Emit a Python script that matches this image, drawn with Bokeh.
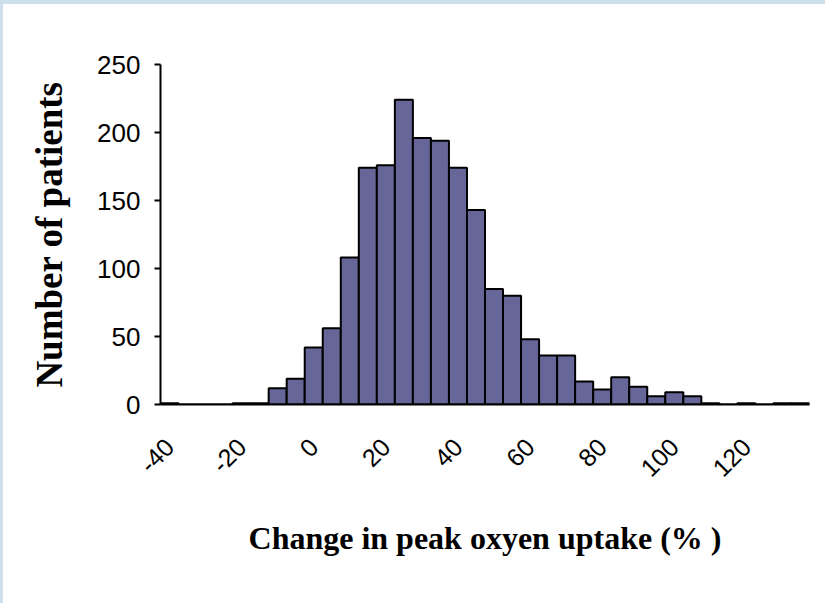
import math
from bokeh.plotting import figure
from bokeh.models import Range1d, FixedTicker, ColumnDataSource, Spacer
from bokeh.layouts import column, row
from bokeh.embed import file_html
from bokeh.resources import INLINE

# ---- data ----
bin_centers = [-40, -35, -30, -25, -20, -15, -10, -5, 0, 5, 10, 15, 20, 25, 30, 35,
               40, 45, 50, 55, 60, 65, 70, 75, 80, 85, 90, 95, 100, 105, 110, 115,
               120, 125, 130, 135]
counts = [1, 0, 0, 0, 1, 1, 12, 19, 42, 56, 108, 174, 176, 224, 196, 194,
          174, 143, 85, 80, 48, 36, 36, 17, 11, 20, 13, 6, 9, 6, 1, 0,
          1, 0, 1, 1]
bin_width = 5
x_tick_values = [-40, -20, 0, 20, 40, 60, 80, 100, 120]
x_tick_labels = ["-40", "-20", "0", "20", "40", "60", "80", "100", "120"]
y_tick_values = [0, 50, 100, 150, 200, 250]
x_title = "Change in peak oxyen uptake (% )"
y_title = "Number of patients"

src = ColumnDataSource(dict(x=bin_centers, top=counts))

p = figure(width=822, height=599, output_backend="svg", toolbar_location=None,
           x_range=Range1d(bin_centers[0] - bin_width / 2, bin_centers[-1] + bin_width / 2),
           y_range=Range1d(0, 250),
           min_border_left=157, min_border_right=16, min_border_top=60,
           min_border_bottom=199)
p.outline_line_color = None
p.xgrid.grid_line_color = None
p.ygrid.grid_line_color = None
p.background_fill_color = "white"
p.border_fill_color = "white"

p.vbar(x="x", top="top", width=bin_width, bottom=0, source=src,
       fill_color="#666699", line_color="black", line_width=2)

# x axis
xa = p.xaxis[0]
xa.ticker = FixedTicker(ticks=x_tick_values)
xa.major_label_overrides = {v: s for v, s in zip(x_tick_values, x_tick_labels)}
xa.major_label_orientation = math.pi / 4
xa.major_tick_line_color = None
xa.minor_tick_line_color = None
xa.axis_line_width = 2
xa.axis_line_color = "black"
xa.major_label_text_font = "Liberation Sans"
xa.major_label_text_font_size = "25px"
xa.major_label_text_color = "black"
xa.major_label_standoff = 32
xa.axis_label = x_title
xa.axis_label_text_font = "Liberation Serif"
xa.axis_label_text_font_style = "bold"
xa.axis_label_text_font_size = "32px"
xa.axis_label_text_color = "black"
xa.axis_label_standoff = 32

# y axis
ya = p.yaxis[0]
ya.ticker = FixedTicker(ticks=y_tick_values)
ya.major_tick_out = 6
ya.major_tick_in = 0
ya.major_tick_line_width = 2
ya.minor_tick_line_color = None
ya.axis_line_width = 2
ya.axis_line_color = "black"
ya.major_label_text_font = "Liberation Sans"
ya.major_label_text_font_size = "26px"
ya.major_label_text_color = "black"
ya.major_label_standoff = 14
ya.axis_label = y_title
ya.axis_label_text_font = "Liberation Serif"
ya.axis_label_text_font_style = "bold"
ya.axis_label_text_font_size = "37px"
ya.axis_label_text_color = "black"
ya.axis_label_standoff = 24

band = {"background-color": "#cde0ec"}
layout = column(Spacer(width=825, height=4, styles=band),
                row(Spacer(width=3, height=599, styles=band), p))

open("out.html", "w").write(file_html(layout, INLINE))
